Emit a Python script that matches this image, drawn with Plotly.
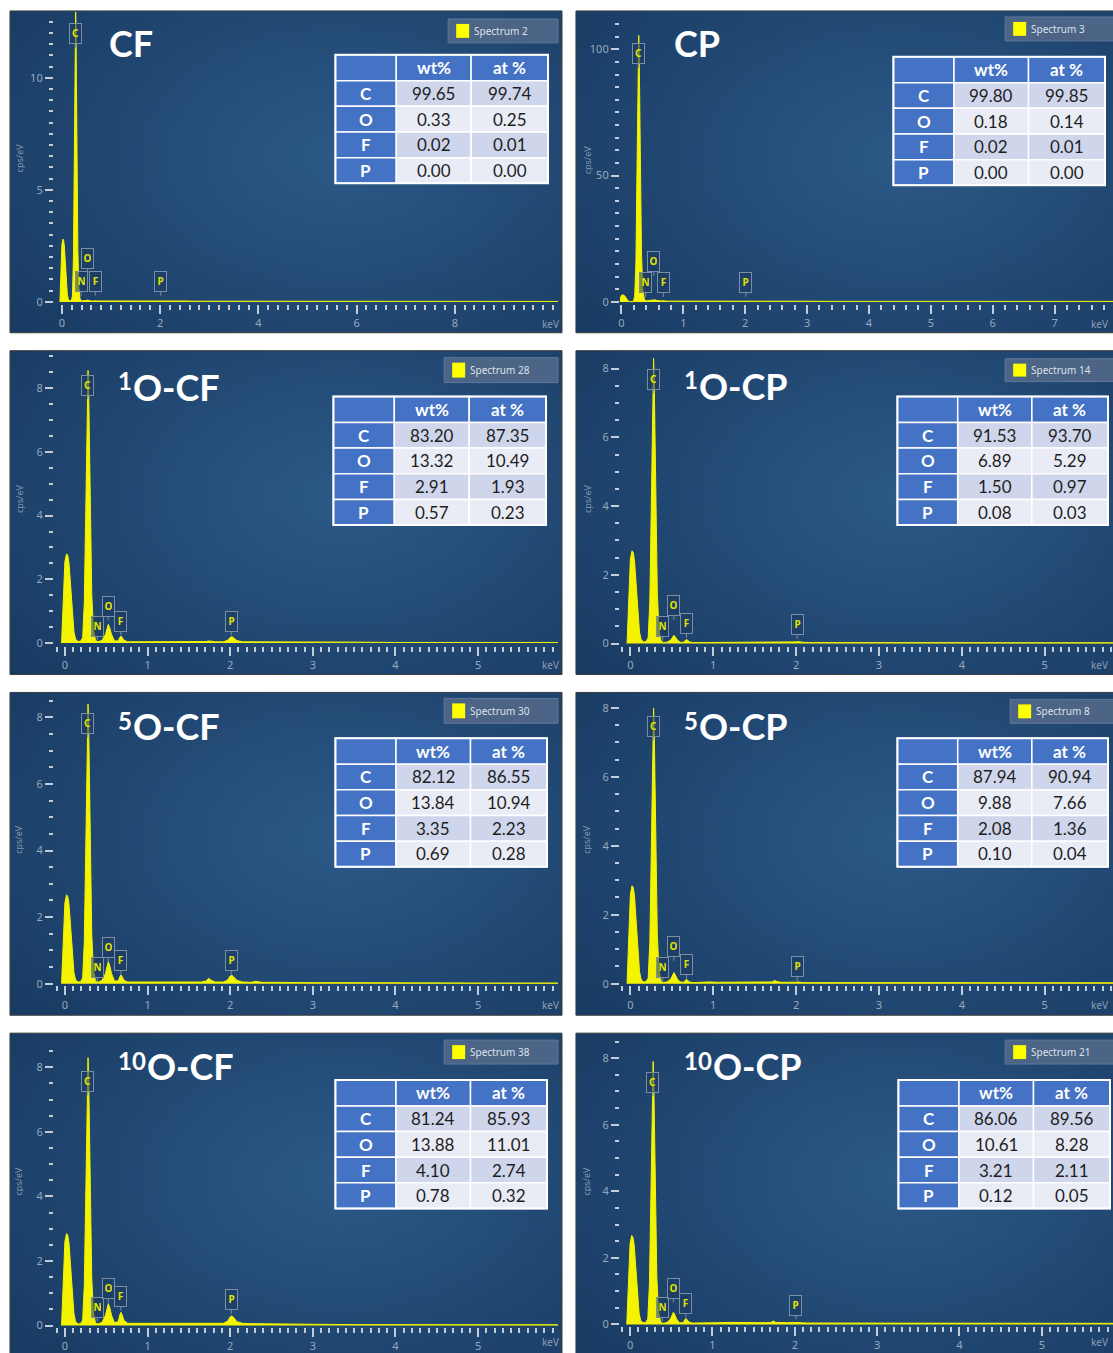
import base64
import struct
import zlib
import plotly.graph_objects as go

W, H = 1113, 1353

# ---------------- data ----------------
energy_kev = [-0.04, -0.02, 0.0, 0.02, 0.035, 0.05, 0.07, 0.09, 0.11, 0.13, 0.16, 0.19,
              0.215, 0.235, 0.25, 0.262, 0.272, 0.28, 0.288, 0.298, 0.31, 0.325, 0.345, 0.37,
              0.40, 0.45,
              0.49, 0.51, 0.525, 0.54, 0.565, 0.60,
              0.645, 0.665, 0.678, 0.69, 0.715, 0.76,
              0.85, 0.95, 1.05, 1.2, 1.35, 1.5, 1.65,
              1.71, 1.74, 1.77, 1.82,
              1.92, 1.97,
              2.0, 2.02, 2.04, 2.08, 2.15,
              2.25, 2.31, 2.38,
              2.5, 2.75, 3.0, 3.5, 4.0, 5.0, 6.0, 7.0, 8.0, 9.0, 10.0, 10.5]

counts_CF = [0.0, 1.3, 2.55, 2.8, 2.75, 2.5, 1.8, 0.9, 0.35, 0.12, 0.05, 0.06,
             0.26, 1.95, 5.85, 9.75, 12.35, 13.0, 11.96, 9.1, 5.46, 2.34, 0.65, 0.13,
             0.04, 0.04,
             0.05, 0.07, 0.08, 0.07, 0.05, 0.04,
             0.04, 0.05, 0.05, 0.05, 0.04, 0.04,
             0.05, 0.06, 0.05, 0.06, 0.05, 0.06, 0.05,
             0.05, 0.06, 0.05, 0.05,
             0.05, 0.05,
             0.07, 0.07, 0.06, 0.05, 0.05,
             0.05, 0.07, 0.05,
             0.04, 0.03, 0.03, 0.03, 0.02, 0.02, 0.02, 0.02, 0.02, 0.02, 0.02, 0.02]

counts_CP = [0.0, 1.3, 2.55, 2.8, 2.75, 2.5, 1.8, 0.9, 0.35, 0.12, 0.05, 0.06,
             2.1, 15.8, 47.5, 79.1, 100.2, 105.5, 97.1, 73.9, 44.3, 19.0, 5.3, 1.1,
             0.4, 0.5,
             0.6, 0.8, 0.9, 0.8, 0.6, 0.4,
             0.35, 0.45, 0.5, 0.45, 0.35, 0.3,
             0.3, 0.3, 0.3, 0.3, 0.3, 0.3, 0.3,
             0.3, 0.35, 0.3, 0.3,
             0.3, 0.35,
             0.45, 0.5, 0.45, 0.35, 0.3,
             0.3, 0.3, 0.3,
             0.3, 0.25, 0.25, 0.2, 0.2, 0.2, 0.2, 0.2, 0.2, 0.2, 0.2, 0.2]

counts_1O_CF = [0.0, 1.3, 2.55, 2.8, 2.75, 2.5, 1.8, 0.9, 0.35, 0.12, 0.05, 0.06,
                0.17, 1.28, 3.85, 6.41, 8.12, 8.55, 7.87, 5.99, 3.59, 1.54, 0.43, 0.09,
                0.04, 0.09,
                0.27, 0.5, 0.59, 0.5, 0.27, 0.07,
                0.07, 0.18, 0.22, 0.19, 0.09, 0.04,
                0.04, 0.05, 0.04, 0.05, 0.04, 0.05, 0.04,
                0.05, 0.07, 0.05, 0.04,
                0.04, 0.09,
                0.18, 0.2, 0.17, 0.08, 0.04,
                0.04, 0.05, 0.04,
                0.04, 0.03, 0.03, 0.03, 0.02, 0.02, 0.02, 0.02, 0.02, 0.02, 0.02, 0.02]

counts_1O_CP = [0.0, 1.25, 2.46, 2.7, 2.65, 2.41, 1.74, 0.87, 0.34, 0.12, 0.05, 0.06,
                0.17, 1.25, 3.74, 6.23, 7.89, 8.3, 7.64, 5.81, 3.49, 1.49, 0.42, 0.08,
                0.03, 0.05,
                0.11, 0.2, 0.24, 0.2, 0.11, 0.04,
                0.04, 0.1, 0.12, 0.1, 0.05, 0.03,
                0.03, 0.04, 0.03, 0.04, 0.03, 0.04, 0.03,
                0.04, 0.05, 0.04, 0.03,
                0.03, 0.04,
                0.05, 0.06, 0.05, 0.04, 0.03,
                0.03, 0.04, 0.03,
                0.03, 0.03, 0.02, 0.02, 0.02, 0.02, 0.02, 0.02, 0.02, 0.02, 0.02, 0.02]

counts_5O_CF = [0.0, 1.24, 2.43, 2.67, 2.62, 2.38, 1.72, 0.86, 0.33, 0.11, 0.05, 0.06,
                0.17, 1.26, 3.78, 6.3, 7.98, 8.4, 7.73, 5.88, 3.53, 1.51, 0.42, 0.08,
                0.04, 0.1,
                0.3, 0.56, 0.66, 0.56, 0.3, 0.08,
                0.08, 0.21, 0.26, 0.22, 0.1, 0.05,
                0.05, 0.06, 0.05, 0.06, 0.05, 0.06, 0.05,
                0.08, 0.16, 0.1, 0.05,
                0.05, 0.11,
                0.23, 0.25, 0.21, 0.1, 0.05,
                0.04, 0.07, 0.04,
                0.04, 0.03, 0.03, 0.03, 0.02, 0.02, 0.02, 0.02, 0.02, 0.02, 0.02, 0.02]

counts_5O_CP = [0.0, 1.32, 2.59, 2.84, 2.79, 2.54, 1.83, 0.91, 0.36, 0.12, 0.05, 0.06,
                0.16, 1.2, 3.6, 6.0, 7.6, 8.0, 7.36, 5.6, 3.36, 1.44, 0.4, 0.08,
                0.03, 0.06,
                0.14, 0.27, 0.32, 0.27, 0.14, 0.05,
                0.04, 0.1, 0.12, 0.1, 0.05, 0.03,
                0.04, 0.05, 0.04, 0.04, 0.04, 0.05, 0.04,
                0.05, 0.09, 0.06, 0.04,
                0.03, 0.04,
                0.04, 0.05, 0.04, 0.03, 0.03,
                0.03, 0.04, 0.03,
                0.03, 0.03, 0.02, 0.02, 0.02, 0.02, 0.02, 0.02, 0.02, 0.02, 0.02, 0.02]

counts_10O_CF = [0.0, 1.32, 2.6, 2.85, 2.8, 2.54, 1.83, 0.92, 0.36, 0.12, 0.05, 0.06,
                 0.17, 1.25, 3.74, 6.23, 7.89, 8.3, 7.64, 5.81, 3.49, 1.49, 0.42, 0.08,
                 0.05, 0.1,
                 0.31, 0.58, 0.68, 0.58, 0.31, 0.09,
                 0.12, 0.33, 0.41, 0.35, 0.16, 0.07,
                 0.07, 0.08, 0.07, 0.08, 0.07, 0.08, 0.07,
                 0.07, 0.08, 0.07, 0.07,
                 0.07, 0.14,
                 0.27, 0.3, 0.26, 0.12, 0.07,
                 0.06, 0.06, 0.05,
                 0.05, 0.04, 0.04, 0.03, 0.03, 0.02, 0.02, 0.02, 0.02, 0.02, 0.02, 0.02]

counts_10O_CP = [0.0, 1.24, 2.43, 2.67, 2.62, 2.38, 1.72, 0.86, 0.33, 0.11, 0.05, 0.06,
                 0.16, 1.19, 3.56, 5.93, 7.51, 7.9, 7.27, 5.53, 3.32, 1.42, 0.4, 0.08,
                 0.03, 0.06,
                 0.16, 0.31, 0.36, 0.31, 0.16, 0.05,
                 0.05, 0.14, 0.18, 0.15, 0.07, 0.04,
                 0.05, 0.06, 0.05, 0.06, 0.05, 0.06, 0.05,
                 0.06, 0.1, 0.06, 0.05,
                 0.05, 0.06,
                 0.06, 0.07, 0.06, 0.05, 0.04,
                 0.04, 0.04, 0.04,
                 0.04, 0.03, 0.03, 0.03, 0.02, 0.02, 0.02, 0.02, 0.02, 0.02, 0.02, 0.02]

table_elements = ["C", "O", "F", "P"]
table_header = ["", "wt%", "at %"]

wt_CF = [99.65, 0.33, 0.02, 0.00]
at_CF = [99.74, 0.25, 0.01, 0.00]
wt_CP = [99.80, 0.18, 0.02, 0.00]
at_CP = [99.85, 0.14, 0.01, 0.00]
wt_1O_CF = [83.20, 13.32, 2.91, 0.57]
at_1O_CF = [87.35, 10.49, 1.93, 0.23]
wt_1O_CP = [91.53, 6.89, 1.50, 0.08]
at_1O_CP = [93.70, 5.29, 0.97, 0.03]
wt_5O_CF = [82.12, 13.84, 3.35, 0.69]
at_5O_CF = [86.55, 10.94, 2.23, 0.28]
wt_5O_CP = [87.94, 9.88, 2.08, 0.10]
at_5O_CP = [90.94, 7.66, 1.36, 0.04]
wt_10O_CF = [81.24, 13.88, 4.10, 0.78]
at_10O_CF = [85.93, 11.01, 2.74, 0.32]
wt_10O_CP = [86.06, 10.61, 3.21, 0.12]
at_10O_CP = [89.56, 8.28, 2.11, 0.05]

peak_elements = ["C", "N", "O", "F", "P"]
peak_energy_kev = [0.277, 0.392, 0.525, 0.677, 2.013]

title_sup = ["", "", "1", "1", "5", "5", "10", "10"]
title_base = ["CF", "CP", "O-CF", "O-CP", "O-CF", "O-CP", "O-CF", "O-CP"]
spectrum_names = ["Spectrum 2", "Spectrum 3", "Spectrum 28", "Spectrum 14",
                  "Spectrum 30", "Spectrum 8", "Spectrum 38", "Spectrum 21"]
series_counts = [counts_CF, counts_CP, counts_1O_CF, counts_1O_CP,
                 counts_5O_CF, counts_5O_CP, counts_10O_CF, counts_10O_CP]
series_wt = [wt_CF, wt_CP, wt_1O_CF, wt_1O_CP, wt_5O_CF, wt_5O_CP, wt_10O_CF, wt_10O_CP]
series_at = [at_CF, at_CP, at_1O_CF, at_1O_CP, at_5O_CF, at_5O_CP, at_10O_CF, at_10O_CP]

x_major_ticks = [[0, 2, 4, 6, 8], [0, 1, 2, 3, 4, 5, 6, 7]] + [[0, 1, 2, 3, 4, 5]] * 6
x_minor_step = [0.2, 0.2, 0.1, 0.1, 0.1, 0.1, 0.1, 0.1]
y_major_step = [5, 50, 2, 2, 2, 2, 2, 2]
y_minor_step = [0.5, 5, 0.5, 0.5, 0.5, 0.5, 0.5, 0.5]

# ---------------- layout geometry (pixels) ----------------
layout_px = [
    dict(box=(8, 11, 561, 334), plot=(52, 12, 557, 305), cal=(60, 49.2, 303, 22.5),
         table=(334, 55, 547), legend=(447, 19, 557, 43), title=(105, 43),
         lifts=[255, 6, 29, 6, 6], ylab=(17, 158), kev=(549, 325)),
    dict(box=(575, 11, 1116, 334), plot=(619, 12, 1113, 305), cal=(620.5, 62.0, 303, 2.535),
         table=(893, 57, 1105), legend=(1005, 17, 1116, 41), title=(671, 43),
         lifts=[235, 5, 26, 5, 5], ylab=(586, 160), kev=(1099, 325)),
    dict(box=(8, 352, 561, 677), plot=(52, 356, 557, 648), cal=(63, 82.8, 645.5, 32.0),
         table=(332, 398, 545), legend=(443, 359, 557, 384), title=(114, 388),
         lifts=[245, 3, 23, 8, 8], ylab=(17, 500), kev=(549, 667)),
    dict(box=(575, 352, 1116, 677), plot=(619, 356, 1113, 648), cal=(629.5, 83.0, 646, 34.5),
         table=(897, 398, 1108), legend=(1005, 360, 1116, 383), title=(681, 387),
         lifts=[251, 3, 24, 6, 5], ylab=(586, 500), kev=(1099, 667)),
    dict(box=(8, 695, 561, 1019), plot=(52, 699, 557, 989), cal=(63, 82.8, 987.3, 33.4),
         table=(334, 741, 546), legend=(443, 701, 557, 726), title=(114, 729),
         lifts=[247, 2, 22, 9, 9], ylab=(17, 842), kev=(549, 1009)),
    dict(box=(575, 695, 1116, 1019), plot=(619, 699, 1113, 989), cal=(629.5, 83.0, 987.3, 34.6),
         table=(897, 741, 1108), legend=(1010, 702, 1116, 726), title=(681, 729),
         lifts=[244, 2, 23, 5, 3], ylab=(586, 842), kev=(1099, 1009)),
    dict(box=(8, 1037, 561, 1360), plot=(52, 1041, 557, 1332), cal=(63, 82.8, 1330.5, 32.4),
         table=(334, 1084, 546), legend=(443, 1044, 557, 1068), title=(114, 1070),
         lifts=[231, 4, 23, 15, 12], ylab=(17, 1185), kev=(549, 1347)),
    dict(box=(575, 1037, 1116, 1360), plot=(619, 1041, 1113, 1331), cal=(629.2, 82.5, 1329.3, 33.4),
         table=(898, 1084, 1110), legend=(1005, 1044, 1116, 1068), title=(681, 1070),
         lifts=[229, 3, 22, 7, 5], ylab=(586, 1185), kev=(1099, 1347)),
]

TABLE_COL_W = [61, 75, 77]
TABLE_ROW_H = [26, 25.75, 25.75, 25.75, 25.75]

# ---------------- styles ----------------
YELLOW = "#f4f400"
TICK = "#c3cdd9"
TICKFONT = dict(family="Noto Sans", size=11, color="#97a9bd")
HEAD_BLUE = "#4472c4"
ROW_DARK = "#cfd5ea"
ROW_LIGHT = "#e9ebf5"
TITLE_SIZE = 36
SUP_SIZE = 24


def px_x(v):
    return v / W


def px_y(v):
    return 1 - v / H


def gradient_png(w=64, h=64):
    c_in = (45, 90, 136)
    c_out = (24, 58, 98)
    rows = []
    for j in range(h):
        row = bytearray([0])
        for i in range(w):
            u = i / (w - 1)
            v = j / (h - 1)
            d = min(1.0, (((u - 0.6) / 0.8) ** 2 + ((v - 0.45) / 0.9) ** 2) ** 0.5)
            for k in range(3):
                row.append(int(c_in[k] * (1 - d) + c_out[k] * d))
        rows.append(bytes(row))
    raw = b"".join(rows)

    def chunk(t, data):
        return (struct.pack(">I", len(data)) + t + data
                + struct.pack(">I", zlib.crc32(t + data) & 0xffffffff))

    png = (b"\x89PNG\r\n\x1a\n"
           + chunk(b"IHDR", struct.pack(">IIBBBBB", w, h, 8, 2, 0, 0, 0))
           + chunk(b"IDAT", zlib.compress(raw))
           + chunk(b"IEND", b""))
    return "data:image/png;base64," + base64.b64encode(png).decode()


BG = gradient_png()

fig = go.Figure()
shapes, annotations, images = [], [], []
axes = {}

for i, geo in enumerate(layout_px):
    n = i + 1
    xa = "xaxis" if n == 1 else f"xaxis{n}"
    ya = "yaxis" if n == 1 else f"yaxis{n}"
    xr = "x" if n == 1 else f"x{n}"
    yr = "y" if n == 1 else f"y{n}"
    l, t, r, b = geo["plot"]
    x0, kx, y0, ky = geo["cal"]

    bl, bt, br, bb = geo["box"]
    images.append(dict(source=BG, xref="paper", yref="paper", x=px_x(bl), y=px_y(bt),
                       sizex=(br - bl) / W, sizey=(bb - bt) / H, sizing="stretch",
                       xanchor="left", yanchor="top", layer="below"))
    shapes.append(dict(type="rect", xref="paper", yref="paper", x0=px_x(bl), x1=px_x(br),
                       y0=px_y(bb), y1=px_y(bt), line=dict(color="#3c3c3c", width=1),
                       fillcolor="rgba(0,0,0,0)", layer="above"))

    axes[xa] = dict(domain=[px_x(l), px_x(r)], range=[(l - x0) / kx, (r - x0) / kx],
                    anchor=yr, tickmode="array", tickvals=x_major_ticks[i],
                    ticks="outside", ticklen=9, tickwidth=2, tickcolor=TICK,
                    minor=dict(tickmode="linear", tick0=0, dtick=x_minor_step[i],
                               ticks="outside", ticklen=5, tickwidth=2, tickcolor=TICK,
                               showgrid=False),
                    showgrid=False, zeroline=False, showline=False,
                    tickfont=TICKFONT, fixedrange=True)
    axes[ya] = dict(domain=[px_y(b), px_y(t)], range=[(y0 - b) / ky, (y0 - t) / ky],
                    anchor=xr, tickmode="linear", tick0=0, dtick=y_major_step[i],
                    ticks="outside", ticklen=8, tickwidth=2, tickcolor=TICK,
                    minor=dict(tickmode="linear", tick0=0, dtick=y_minor_step[i],
                               ticks="outside", ticklen=4, tickwidth=2, tickcolor=TICK,
                               showgrid=False),
                    showgrid=False, zeroline=False, showline=False,
                    tickfont=TICKFONT, fixedrange=True)

    fig.add_trace(go.Scatter(x=energy_kev, y=series_counts[i], xaxis=xr, yaxis=yr,
                             mode="lines", line=dict(color=YELLOW, width=1),
                             fill="tozeroy", fillcolor=YELLOW,
                             hoverinfo="skip", showlegend=False))

    for el, en, lift in zip(peak_elements, peak_energy_kev, geo["lifts"]):
        annotations.append(dict(x=en, y=lift / ky, xref=xr, yref=yr, text=f"<b>{el}</b>",
                                font=dict(family="Noto Sans", size=10, color="#e2e200"),
                                showarrow=True, arrowhead=0, arrowwidth=1,
                                arrowcolor="#7d8ea3", ax=0, ay=-14,
                                bordercolor="#7d8ea3", borderwidth=1, borderpad=2,
                                bgcolor="rgba(28,58,98,0.55)", width=7, height=15,
                                valign="top"))

    # sample title: optional superscript dose, then base name
    tx, ty = geo["title"]
    base_x = tx
    if title_sup[i]:
        annotations.append(dict(x=px_x(tx), y=px_y(ty - 6), xref="paper", yref="paper",
                                xanchor="left", yanchor="middle", showarrow=False,
                                text=f"<b>{title_sup[i]}</b>",
                                font=dict(family="Lato", size=SUP_SIZE, color="white")))
        base_x = tx + 14 * len(title_sup[i]) + 1
    annotations.append(dict(x=px_x(base_x), y=px_y(ty), xref="paper", yref="paper",
                            xanchor="left", yanchor="middle", showarrow=False,
                            text=f"<b>{title_base[i]}</b>",
                            font=dict(family="Lato", size=TITLE_SIZE, color="white")))

    lx, ly = geo["ylab"]
    annotations.append(dict(x=px_x(lx), y=px_y(ly), xref="paper", yref="paper",
                            xanchor="center", yanchor="middle",
                            text="cps/eV", textangle=-90, showarrow=False,
                            font=dict(family="Noto Sans", size=9, color="#8497ad")))
    kvx, kvy = geo["kev"]
    annotations.append(dict(x=px_x(kvx), y=px_y(kvy), xref="paper", yref="paper",
                            xanchor="center", yanchor="middle",
                            text="keV", showarrow=False,
                            font=dict(family="Noto Sans", size=10, color="#8c9db2")))

    gl, gt, gr, gb = geo["legend"]
    shapes.append(dict(type="rect", xref="paper", yref="paper", x0=px_x(gl), x1=px_x(gr),
                       y0=px_y(gb), y1=px_y(gt), line=dict(color="#60789a", width=1),
                       fillcolor="#4c6485", layer="above"))
    shapes.append(dict(type="rect", xref="paper", yref="paper", x0=px_x(gl + 8),
                       x1=px_x(gl + 21), y0=px_y(gb - 5), y1=px_y(gt + 5),
                       line=dict(width=0), fillcolor="#ffff00", layer="above"))
    annotations.append(dict(x=px_x(gl + 24), y=px_y((gt + gb) / 2), xref="paper", yref="paper",
                            xanchor="left", yanchor="middle", showarrow=False,
                            text=spectrum_names[i],
                            font=dict(family="Noto Sans", size=10, color="#dce3eb")))

    # composition table drawn as cells
    tl, tt, tr = geo["table"]
    scale = (tr - tl) / sum(TABLE_COL_W)
    col_edges = [tl]
    for cw in TABLE_COL_W:
        col_edges.append(col_edges[-1] + cw * scale)
    row_edges = [tt]
    for rh in TABLE_ROW_H:
        row_edges.append(row_edges[-1] + rh)
    row_fill = [ROW_DARK, ROW_LIGHT, ROW_DARK, ROW_LIGHT]
    table_text = [table_header] + [
        [f"<b>{e}</b>", f"{w:.2f}", f"{a:.2f}"]
        for e, w, a in zip(table_elements, series_wt[i], series_at[i])]
    for ri in range(5):
        for ci in range(3):
            if ri == 0 or ci == 0:
                fill = HEAD_BLUE
                fcolor = "white"
                txt = table_text[ri][ci]
                if ri == 0 and txt:
                    txt = f"<b>{txt}</b>"
            else:
                fill = row_fill[ri - 1]
                fcolor = "#1e1e1e"
                txt = table_text[ri][ci]
            shapes.append(dict(type="rect", xref="paper", yref="paper",
                               x0=px_x(col_edges[ci]), x1=px_x(col_edges[ci + 1]),
                               y0=px_y(row_edges[ri + 1]), y1=px_y(row_edges[ri]),
                               fillcolor=fill, line=dict(color="white", width=1.5),
                               layer="above"))
            if txt:
                annotations.append(dict(
                    x=px_x((col_edges[ci] + col_edges[ci + 1]) / 2),
                    y=px_y((row_edges[ri] + row_edges[ri + 1]) / 2),
                    xref="paper", yref="paper", xanchor="center", yanchor="middle",
                    showarrow=False, text=txt,
                    font=dict(family="Lato", size=17, color=fcolor)))
    shapes.append(dict(type="rect", xref="paper", yref="paper",
                       x0=px_x(col_edges[0]), x1=px_x(col_edges[-1]),
                       y0=px_y(row_edges[-1]), y1=px_y(row_edges[0]),
                       fillcolor="rgba(0,0,0,0)", line=dict(color="white", width=2),
                       layer="above"))

fig.update_layout(width=W, height=H, margin=dict(l=0, r=0, t=0, b=0),
                  paper_bgcolor="white", plot_bgcolor="rgba(0,0,0,0)",
                  showlegend=False, shapes=shapes, annotations=annotations, images=images,
                  **axes)

fig.write_html("out.html", config={"displayModeBar": False},
               post_script="document.body.style.margin='0px';document.body.style.overflow='hidden';")
